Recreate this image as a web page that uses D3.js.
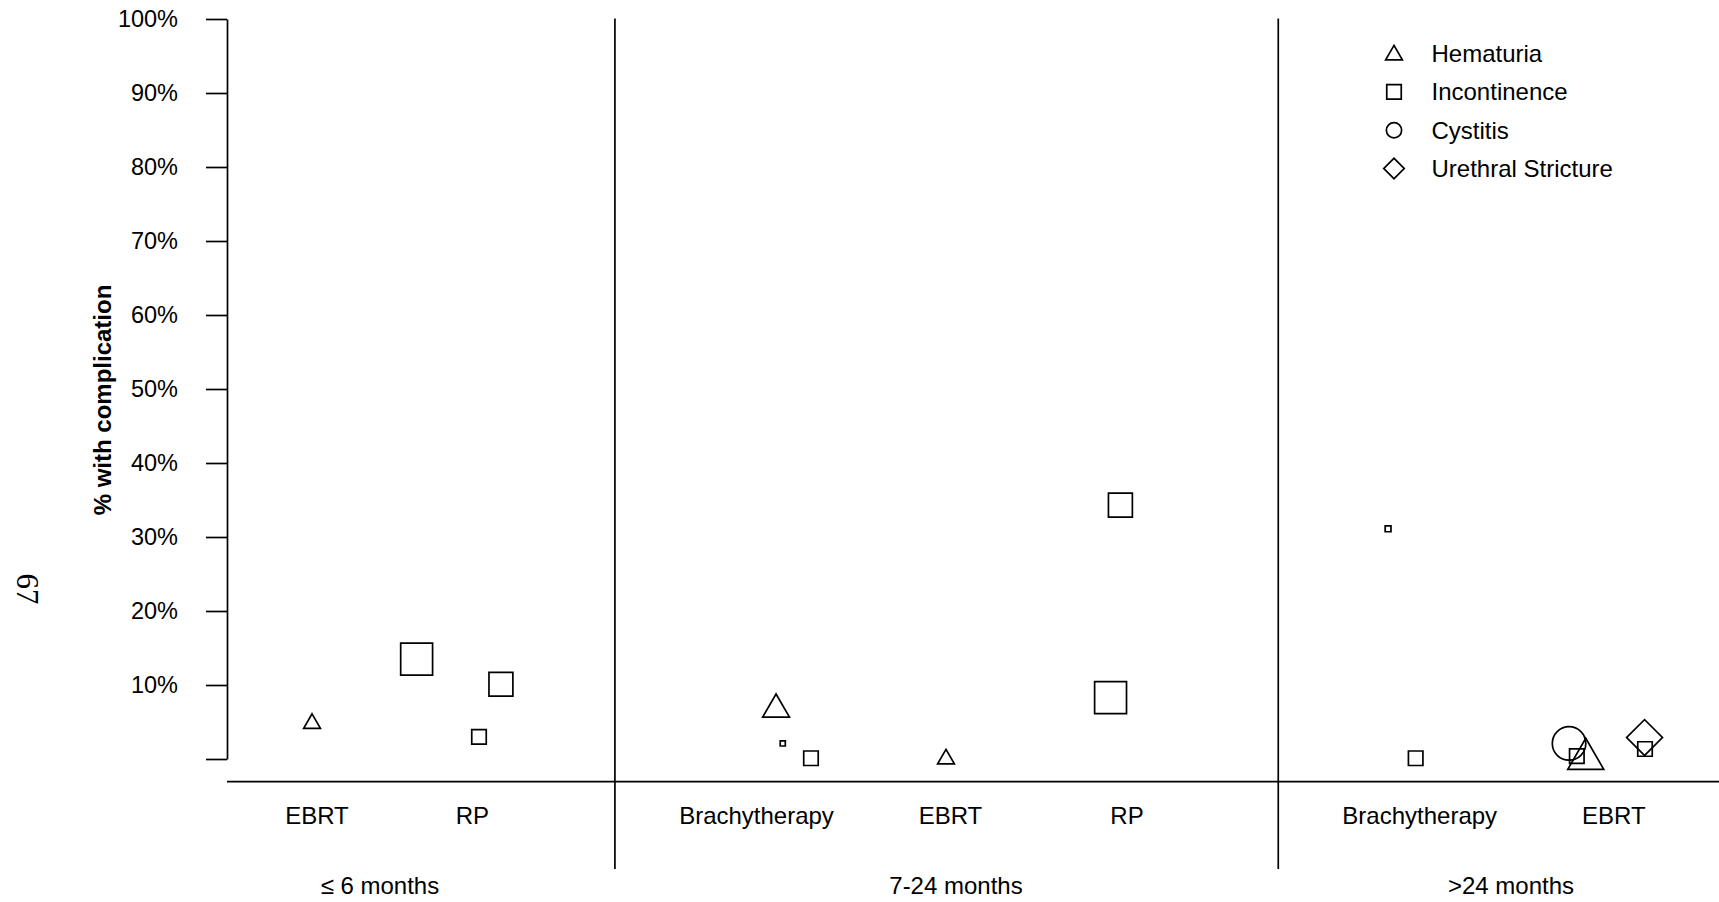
<!DOCTYPE html>
<html><head><meta charset="utf-8">
<script src="https://cdn.jsdelivr.net/npm/d3@7"></script>
<style>
body{margin:0;background:#fff;}
svg{display:block;}
text{font-family:"Liberation Sans", Arial, Helvetica, sans-serif;fill:#000;}
</style>
</head><body><svg id="chart" width="1719" height="902"></svg>
<script>
// ---------- data ----------
const yTicks = [0,10,20,30,40,50,60,70,80,90,100];
const groups = ["≤ 6 months","7-24 months",">24 months"];
const groupLabelPos = [10.25, 48.86, 86.06];
const groupDividers = [26.0, 70.46];
const categories = ["EBRT","RP","Brachytherapy","EBRT","RP","Brachytherapy","EBRT"];
const categoryGroup = [0,0,1,1,1,2,2];
const categoryPos = [6.03,16.45,35.49,48.49,60.32,79.94,92.95];
const complications = ["Hematuria","Incontinence","Cystitis","Urethral Stricture"];

// individual study points
const ptCategory     = [0,1,1,1, 2,2,2,3,4,4, 5,5,6,6,6,6,6];
const ptComplication = [0,1,1,1, 0,1,1,0,1,1, 1,1,2,1,0,3,1];
const ptPercent      = [4.8,13.5,3.0,10.1, 6.7,2.1,0.1,0.0,34.3,8.3, 31.1,0.1,2.1,0.4,0.0,2.9,1.35];
const ptPosition     = [5.70,12.71,16.89,18.36, 36.80,37.25,39.14,48.19,59.88,59.22, 77.82,79.67,89.95,90.47,91.07,95.01,95.04];
const ptWeight       = [1.0,2.2,1.0,1.65, 1.6,0.35,1.0,1.0,1.65,2.2, 0.4,1.0,2.2,1.0,2.15,1.75,1.0];

// ---------- layout ----------
const W = 1719, H = 902;
const svg = d3.select("#chart");
const x = d3.scaleLinear().domain([0,100]).range([227, 1719]);
const y = d3.scaleLinear().domain([0,100]).range([759, 19]);
const sz = d3.scaleLinear().domain([0,1]).range([0,14.5]);
const xAxisY = 781.7;
const lw = 1.7;
const shapeOf = d3.scaleOrdinal().domain(complications).range(["triangle","square","circle","diamond"]);

function symbolPath(shape, s){
  if (shape==="square" || shape==="diamond") return d3.symbol(d3.symbolSquare, s*s)();
  if (shape==="circle") { const r = s*1.05/2; return d3.symbol(d3.symbolCircle, Math.PI*r*r)(); }
  const k = s/3; return d3.symbol(d3.symbolTriangle, k*k*3*Math.sqrt(3))();
}

// y axis
const yAxis = d3.axisLeft(y).tickValues(yTicks)
  .tickFormat(d => d===0 ? "" : d+"%").tickSize(21).tickSizeOuter(0).tickPadding(28);
const gy = svg.append("g").attr("transform",`translate(${x(0)},0)`).call(yAxis);
gy.attr("font-family",null).attr("font-size",null);
gy.selectAll("path,line").attr("stroke","#000").attr("stroke-width",lw);
gy.selectAll("text").style("font-size","23.5px");

// y title
svg.append("text").attr("transform","translate(111,400) rotate(-90)")
  .attr("text-anchor","middle").style("font-size","24px").style("font-weight","bold")
  .text("% with complication");

// page number
svg.append("text").attr("transform","translate(17,589) rotate(90)")
  .attr("text-anchor","middle").style("font-family","'Liberation Serif', 'Times New Roman', serif")
  .style("font-size","31px").text("67");

// x axis line
svg.append("line").attr("x1",x(0)).attr("x2",x(100)).attr("y1",xAxisY).attr("y2",xAxisY)
  .attr("stroke","#000").attr("stroke-width",lw);

// group dividers
svg.selectAll(".div").data(groupDividers).join("line")
  .attr("x1",d=>x(d)).attr("x2",d=>x(d)).attr("y1",18.5).attr("y2",869)
  .attr("stroke","#000").attr("stroke-width",lw);

// category labels
svg.selectAll(".cat").data(categories).join("text")
  .attr("x",(d,i)=>x(categoryPos[i])).attr("y",824)
  .attr("text-anchor","middle").style("font-size","24px").text(d=>d);

// group labels
svg.selectAll(".grp").data(groups).join("text")
  .attr("x",(d,i)=>x(groupLabelPos[i])).attr("y",893.5)
  .attr("text-anchor","middle").style("font-size","24px").text(d=>d);

// points
const pts = ptPercent.map((v,i)=>({v, pos:ptPosition[i], w:ptWeight[i], c:complications[ptComplication[i]], cat:ptCategory[i]}));
svg.append("g").selectAll("path").data(pts).join("path")
  .attr("d",d=>symbolPath(shapeOf(d.c), sz(d.w)))
  .attr("transform",d=>`translate(${x(d.pos)},${y(d.v)})` + (shapeOf(d.c)==="diamond" ? " rotate(45)" : ""))
  .attr("fill","none").attr("stroke","#000").attr("stroke-width",lw);

// legend
const lg = svg.append("g").attr("transform","translate(1394,0)");
const rowY = d3.scalePoint().domain(complications).range([53.5,168.5]);
lg.selectAll("path").data(complications).join("path")
  .attr("d",d=>symbolPath(shapeOf(d), sz(1)))
  .attr("transform",d=>`translate(0,${rowY(d) + (shapeOf(d)==="triangle"?1.5:0)})` + (shapeOf(d)==="diamond"?" rotate(45)":""))
  .attr("fill","none").attr("stroke","#000").attr("stroke-width",lw);
lg.selectAll("text").data(complications).join("text")
  .attr("x",37.5).attr("y",d=>rowY(d)+8.6)
  .style("font-size","24px").text(d=>d);
</script>
</body></html>
